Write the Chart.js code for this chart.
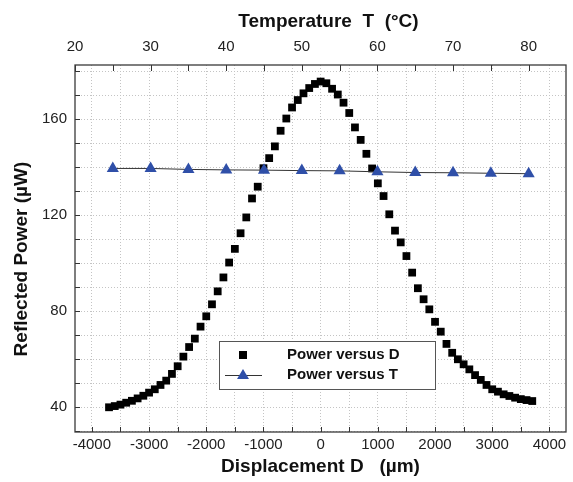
<!DOCTYPE html>
<html>
<head>
<meta charset="utf-8">
<script src="https://cdn.jsdelivr.net/npm/chart.js"></script>
<style>
    html, body { margin: 0; padding: 0; background: #fff; }
    #wrap { width: 573px; height: 482px; }
</style>
</head>
<body>
<div id="wrap"><canvas id="powerChart" width="573" height="482"></canvas></div>
<script>
// Displacement scan (bottom axis, µm) and reflected power (µW)
const displacement = [
    -3700, -3600, -3500, -3400, -3300, -3200, -3100, -3000, -2900, -2800,
    -2700, -2600, -2500, -2400, -2300, -2200, -2100, -2000, -1900, -1800,
    -1700, -1600, -1500, -1400, -1300, -1200, -1100, -1000, -900, -800,
    -700, -600, -500, -400, -300, -200, -100, 0, 100, 200,
    300, 400, 500, 600, 700, 800, 900, 1000, 1100, 1200,
    1300, 1400, 1500, 1600, 1700, 1800, 1900, 2000, 2100, 2200,
    2300, 2400, 2500, 2600, 2700, 2800, 2900, 3000, 3100, 3200,
    3300, 3400, 3500, 3600, 3700
];
const powerVsD = [
    39.9, 40.4, 41.0, 41.8, 42.6, 43.6, 44.7, 46.0, 47.4, 49.2,
    51.0, 53.8, 57.0, 61.0, 65.0, 68.5, 73.5, 77.8, 82.8, 88.2,
    94.0, 100.2, 105.9, 112.4, 119.0, 126.9, 131.8, 139.5, 143.7, 148.6,
    155.1, 160.2, 164.8, 167.9, 170.7, 172.9, 174.6, 175.6, 174.9, 172.6,
    170.2, 166.8, 162.5, 156.5, 151.3, 145.5, 139.4, 133.2, 127.9, 120.3,
    113.5, 108.6, 102.9, 96.0, 89.5, 84.9, 80.7, 75.5, 71.4, 66.3,
    62.6, 59.9, 57.8, 55.7, 53.3, 51.3, 49.2, 47.4, 46.4, 45.3,
    44.6, 43.9, 43.3, 42.9, 42.5
];

// Temperature scan (top axis, °C)
const temperature = [25, 30, 35, 40, 45, 50, 55, 60, 65, 70, 75, 80];
const powerVsT = [139.4, 139.4, 139.0, 138.8, 138.7, 138.5, 138.4, 138.0, 137.7, 137.6, 137.4, 137.2];

// Labelled tick values
const dispLabels = [-4000, -3000, -2000, -1000, 0, 1000, 2000, 3000, 4000];
const tempLabels = [20, 30, 40, 50, 60, 70, 80];
const powerLabels = [40, 80, 120, 160];

const tickFont = { family: 'Liberation Sans, Arial, sans-serif', size: 15 };
const titleFont = { family: 'Liberation Sans, Arial, sans-serif', size: 19, weight: 'bold' };
const gridStyle = { color: '#c4c4c4', lineWidth: 1, drawTicks: false };
const triangleBlue = '#2f4fa8';

const toPoints = (xs, ys) => xs.map((x, i) => ({ x: x, y: ys[i] }));

// Minor tick positions (every grid line / tick mark)
const range = (from, to, step) => {
    const out = [];
    for (let v = from; v <= to + 1e-9; v += step) out.push(v);
    return out;
};
const setTicks = (values) => (scale) => {
    scale.ticks = values.map(v => ({ value: v }));
};

// Frame, inward tick marks and boxed legend
const frameAndLegend = {
    id: 'frameAndLegend',
    afterDraw(chart) {
        const { ctx, chartArea: a, scales } = chart;
        ctx.save();

        ctx.strokeStyle = '#333';
        ctx.lineWidth = 1;
        ctx.beginPath();
        scales.y.ticks.forEach(t => {
            const y = Math.round(scales.y.getPixelForValue(t.value)) + 0.5;
            ctx.moveTo(a.left, y);
            ctx.lineTo(a.left + 5, y);
        });
        scales.x.ticks.forEach(t => {
            const x = Math.round(scales.x.getPixelForValue(t.value)) + 0.5;
            ctx.moveTo(x, a.bottom);
            ctx.lineTo(x, a.bottom - 5);
        });
        scales.x2.ticks.forEach(t => {
            const x = Math.round(scales.x2.getPixelForValue(t.value)) + 0.5;
            ctx.moveTo(x, a.top);
            ctx.lineTo(x, a.top + 6);
        });
        ctx.stroke();

        ctx.strokeStyle = '#3a3a3a';
        ctx.lineWidth = 1.3;
        ctx.strokeRect(a.left, a.top, a.right - a.left, a.bottom - a.top);

        // legend box
        const bx = 219.5, by = 341.5, bw = 216, bh = 48;
        ctx.fillStyle = '#fff';
        ctx.fillRect(bx, by, bw, bh);
        ctx.strokeStyle = '#555';
        ctx.lineWidth = 1;
        ctx.strokeRect(bx, by, bw, bh);

        const mx = 243, row1 = 355, row2 = 375;
        ctx.fillStyle = '#000';
        ctx.fillRect(mx - 4, row1 - 4, 8, 8);

        ctx.strokeStyle = '#333';
        ctx.beginPath();
        ctx.moveTo(225, row2 + 0.5);
        ctx.lineTo(262, row2 + 0.5);
        ctx.stroke();
        ctx.fillStyle = triangleBlue;
        ctx.beginPath();
        ctx.moveTo(mx, row2 - 6);
        ctx.lineTo(mx + 6, row2 + 4);
        ctx.lineTo(mx - 6, row2 + 4);
        ctx.closePath();
        ctx.fill();

        ctx.fillStyle = '#111';
        ctx.font = 'bold 15px Liberation Sans, Arial, sans-serif';
        ctx.textBaseline = 'middle';
        ctx.textAlign = 'left';
        ctx.fillText('Power versus D', 287, row1);
        ctx.fillText('Power versus T', 287, row2);

        ctx.restore();
    }
};

const ctx = document.getElementById('powerChart').getContext('2d');
const chart = new Chart(ctx, {
    type: 'scatter',
    data: {
        datasets: [
            {
                label: 'Power versus T',
                data: toPoints(temperature, powerVsT),
                xAxisID: 'x2',
                yAxisID: 'y',
                showLine: true,
                borderColor: '#333',
                borderWidth: 1,
                pointStyle: 'triangle',
                pointRadius: 7,
                pointBackgroundColor: triangleBlue,
                pointBorderColor: triangleBlue,
                pointBorderWidth: 0
            },
            {
                label: 'Power versus D',
                data: toPoints(displacement, powerVsD),
                xAxisID: 'x',
                yAxisID: 'y',
                showLine: false,
                pointStyle: 'rect',
                pointRadius: 5.5,
                pointBackgroundColor: '#000',
                pointBorderColor: '#000',
                pointBorderWidth: 0
            }
        ]
    },
    options: {
        responsive: false,
        animation: false,
        events: [],
        layout: { padding: { left: 0, right: 2, top: 0, bottom: 0 } },
        plugins: {
            legend: { display: false },
            tooltip: { enabled: false }
        },
        scales: {
            x: {
                type: 'linear',
                position: 'bottom',
                min: -4295,
                max: 4290,
                afterBuildTicks: setTicks(range(-4000, 4000, 500)),
                afterFit: (scale) => { scale.height = 50; },
                border: { display: false, dash: [1, 2] },
                grid: gridStyle,
                ticks: {
                    autoSkip: false,
                    maxRotation: 0,
                    padding: 4,
                    color: '#222',
                    font: tickFont,
                    callback: (v) => dispLabels.includes(v) ? String(v) : ''
                },
                title: {
                    display: true,
                    text: 'Displacement D   (\u00b5m)',
                    color: '#111',
                    font: titleFont,
                    padding: { top: 0, bottom: 4 }
                }
            },
            x2: {
                type: 'linear',
                position: 'top',
                min: 20,
                max: 84.94,
                afterBuildTicks: setTicks(range(20, 80, 5)),
                afterFit: (scale) => { scale.height = 65; },
                border: { display: false },
                grid: { drawOnChartArea: false, drawTicks: false },
                ticks: {
                    autoSkip: false,
                    maxRotation: 0,
                    padding: 9,
                    color: '#222',
                    font: tickFont,
                    callback: (v) => tempLabels.includes(v) ? String(v) : ''
                },
                title: {
                    display: true,
                    text: '   Temperature  T  (\u00b0C)',
                    color: '#111',
                    font: titleFont,
                    padding: { top: 10, bottom: 0 }
                }
            },
            y: {
                type: 'linear',
                position: 'left',
                min: 29.6,
                max: 182.5,
                afterBuildTicks: setTicks(range(30, 180, 10)),
                afterFit: (scale) => { scale.width = 75; },
                border: { display: false, dash: [1, 2] },
                grid: gridStyle,
                ticks: {
                    autoSkip: false,
                    padding: 8,
                    color: '#222',
                    font: tickFont,
                    callback: (v) => powerLabels.includes(v) ? String(v) : ''
                },
                title: {
                    display: true,
                    text: 'Reflected Power (\u00b5W)    ',
                    color: '#111',
                    font: titleFont,
                    padding: { top: 10, bottom: 0 }
                }
            }
        }
    },
    plugins: [frameAndLegend]
});
</script>
</body>
</html>
